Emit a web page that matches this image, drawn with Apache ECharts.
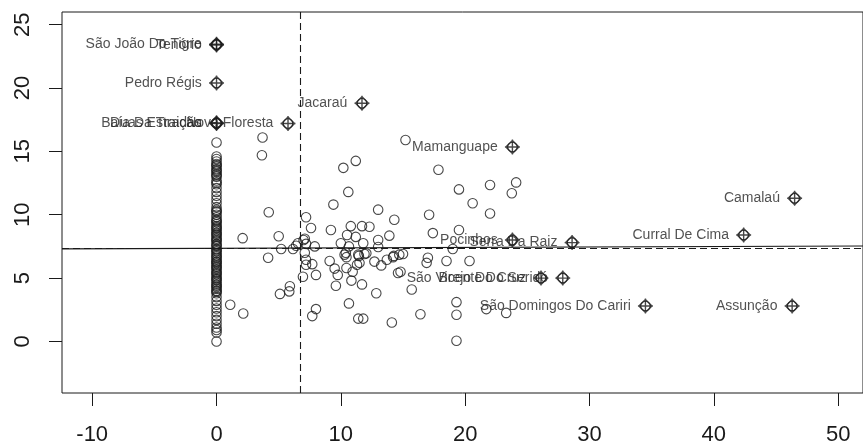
<!DOCTYPE html>
<html>
<head>
<meta charset="utf-8">
<script src="https://cdn.jsdelivr.net/npm/echarts@6/dist/echarts.min.js"></script>
<style>
html,body{margin:0;padding:0;background:#fff;}
#chart{width:863px;height:446px;}
</style>
</head>
<body>
<div id="chart"></div>
<script>
// ---- data ----
const xTicks = [-10, 0, 10, 20, 30, 40, 50];
const yTicks = [0, 5, 10, 15, 20, 25];
const xRange = [-12.43, 52.0];
const yRange = [-4.07, 26.0];

// points with x = 0 (densely stacked)
const zeroColumnY = [15.7, 14.6, 14.4, 14.2, 14.0, 13.8, 13.6, 13.4, 13.2, 13.0, 12.7, 12.4, 12.1, 11.8,
  11.5, 11.2, 10.9, 10.6, 10.4, 10.2, 10.0, 9.8, 9.6, 9.4, 9.25, 9.1, 8.9, 8.75, 8.6, 8.4, 8.25, 8.1,
  7.9, 7.7, 7.5, 7.3, 7.1, 6.95, 6.8, 6.6, 6.45, 6.3, 6.15, 6.0, 5.8, 5.65, 5.5, 5.3, 5.15, 5.0, 4.8,
  4.65, 4.5, 4.3, 4.15, 4.0, 3.8, 3.5, 3.2, 2.9, 2.6, 2.3, 2.0, 1.7, 1.4, 1.1, 0.9, 0.7, 0.0,
  13.9, 13.5, 13.1, 12.55, 10.3, 9.5, 9.0, 8.5, 8.0, 7.6, 7.2, 6.7, 6.25, 5.9, 5.4, 4.9, 4.4, 3.95];

// other unlabelled points
const otherX = [3.7, 3.65, 4.2, 15.2, 11.2, 10.2, 10.6, 9.4, 13.0, 14.3, 2.1, 5.0, 7.2, 7.6, 9.2,
  10.8, 11.7, 12.3, 13.9, 10.5, 11.2, 13.0, 7.0, 7.9, 10.0, 11.8, 5.2, 6.15, 6.4, 6.55, 4.15,
  7.1, 7.2, 13.0, 10.65, 10.4, 10.45, 11.45, 11.5, 11.3, 12.05, 12.7, 13.25, 13.7, 14.25, 15.0,
  7.1, 7.2, 7.2, 7.7, 6.95, 8.0, 9.1, 9.5, 9.75, 9.6, 10.85, 10.95, 11.7, 12.85, 10.65, 5.9,
  5.85, 5.1, 1.1, 2.15, 8.0, 7.7, 11.4, 11.8, 14.1, 17.85, 19.5, 22.0, 24.1, 23.75, 20.6, 22.0,
  17.1, 17.4, 19.5, 19.0, 17.0, 16.9, 18.5, 20.35, 14.6, 14.8, 15.7, 16.4, 19.3, 19.3, 21.7,
  23.3, 19.3, 10.3, 11.4, 11.9, 10.45, 14.2, 14.7];
const otherY = [16.1, 14.7, 10.2, 15.9, 14.25, 13.7, 11.8, 10.8, 10.4, 9.6, 8.15, 8.3, 9.8, 8.95, 8.8,
  9.1, 9.1, 9.05, 8.35, 8.4, 8.25, 8.0, 8.0, 7.5, 7.75, 7.75, 7.3, 7.3, 7.55, 7.75, 6.6,
  8.1, 7.7, 7.45, 7.5, 7.0, 6.65, 6.75, 6.2, 6.05, 6.95, 6.3, 6.0, 6.45, 6.75, 6.9,
  7.0, 6.45, 6.05, 6.1, 5.1, 5.25, 6.35, 5.75, 5.25, 4.4, 4.8, 5.5, 4.5, 3.8, 3.0, 4.35,
  3.95, 3.75, 2.9, 2.2, 2.55, 2.0, 1.8, 1.8, 1.5, 13.55, 12.0, 12.35, 12.55, 11.7, 10.9, 10.1,
  10.0, 8.55, 8.8, 7.3, 6.6, 6.2, 6.35, 6.35, 5.4, 5.5, 4.1, 2.15, 3.1, 2.1, 2.55,
  2.25, 0.05, 6.85, 6.85, 6.9, 5.8, 6.65, 6.85];

// influential (labelled) points
const labelNames = ['São João Do Tigre', 'Tenório', 'Pedro Régis', 'Baía Da Traição', 'Duas Estradas',
  'Nova Floresta', 'Jacaraú', 'Mamanguape', 'Camalaú', 'Curral De Cima', 'Pocinhos', 'Serra Da Raiz',
  'Brejo Do Cruz', 'São Vicente Do Seridó', 'São Domingos Do Cariri', 'Assunção'];
const labelX = [0, 0, 0, 0, 0, 5.75, 11.7, 23.8, 46.5, 42.4, 23.8, 28.6, 26.1, 27.85, 34.5, 46.3];
const labelY = [23.45, 23.4, 20.4, 17.25, 17.2, 17.2, 18.8, 15.35, 11.3, 8.4, 8.0, 7.8, 5.0, 5.0, 2.8, 2.8];

// reference lines: mean of x, mean of lagged y, regression slope
const meanX = [6.75];
const meanLag = [7.37];
const regSlope = [0.0035];

// ---- build ----
const circleData = [];
zeroColumnY.forEach(y => circleData.push([0, y]));
otherX.forEach((x, i) => circleData.push([x, otherY[i]]));
labelX.forEach((x, i) => circleData.push([x, labelY[i]]));

const diamondData = labelNames.map((n, i) => ({ name: n, value: [labelX[i], labelY[i]] }));

const regY = x => meanLag[0] + regSlope[0] * (x - meanX[0]);

const ink = '#1a1a1a';
const chart = echarts.init(document.getElementById('chart'), null, { renderer: 'canvas' });
chart.setOption({
  animation: false,
  backgroundColor: '#fff',
  textStyle: { fontFamily: 'Liberation Sans, Arial, sans-serif' },
  grid: { left: 62, top: 12, width: 802, height: 381, show: true, borderColor: ink, borderWidth: 1, backgroundColor: 'transparent' },
  xAxis: {
    type: 'value', min: xRange[0], max: xRange[1],
    axisLine: { show: false, onZero: false },
    splitLine: { show: false },
    axisTick: { show: true, customValues: xTicks, length: 13, lineStyle: { color: ink, width: 1 } },
    axisLabel: { customValues: xTicks, fontSize: 22, color: ink, margin: 31, fontFamily: 'Liberation Sans' }
  },
  yAxis: {
    type: 'value', min: yRange[0], max: yRange[1],
    axisLine: { show: false, onZero: false },
    splitLine: { show: false },
    axisTick: { show: true, customValues: yTicks, length: 13, lineStyle: { color: ink, width: 1 } },
    axisLabel: { customValues: yTicks, fontSize: 22, color: ink, margin: 28, rotate: 90, fontFamily: 'Liberation Sans' }
  },
  series: [
    {
      type: 'scatter', silent: true,
      symbol: 'circle', symbolSize: 9.5,
      itemStyle: { color: 'rgba(0,0,0,0)', borderColor: ink, borderWidth: 1.1 },
      data: circleData,
      markLine: {
        silent: true, symbol: ['none', 'none'], label: { show: false },
        lineStyle: { color: ink, width: 1.1, type: [7, 4] },
        data: [
          { xAxis: meanX[0] },
          { yAxis: meanLag[0] },
          [
            { coord: [xRange[0], regY(xRange[0])], lineStyle: { type: 'solid', color: ink, width: 1.1 } },
            { coord: [xRange[1], regY(xRange[1])] }
          ]
        ]
      }
    },
    {
      type: 'scatter', silent: true,
      symbol: 'path://M10,0 L20,10 L10,20 L0,10 Z M10,-1.5 L10,21.5 M-1.5,10 L21.5,10',
      symbolSize: 15,
      itemStyle: { color: 'rgba(0,0,0,0)', borderColor: ink, borderWidth: 1.4 },
      label: { show: true, position: 'left', distance: 6.5, formatter: p => p.name, fontSize: 14, color: '#262626', fontFamily: 'Liberation Sans' },
      data: diamondData
    }
  ]
});
</script>
</body>
</html>
